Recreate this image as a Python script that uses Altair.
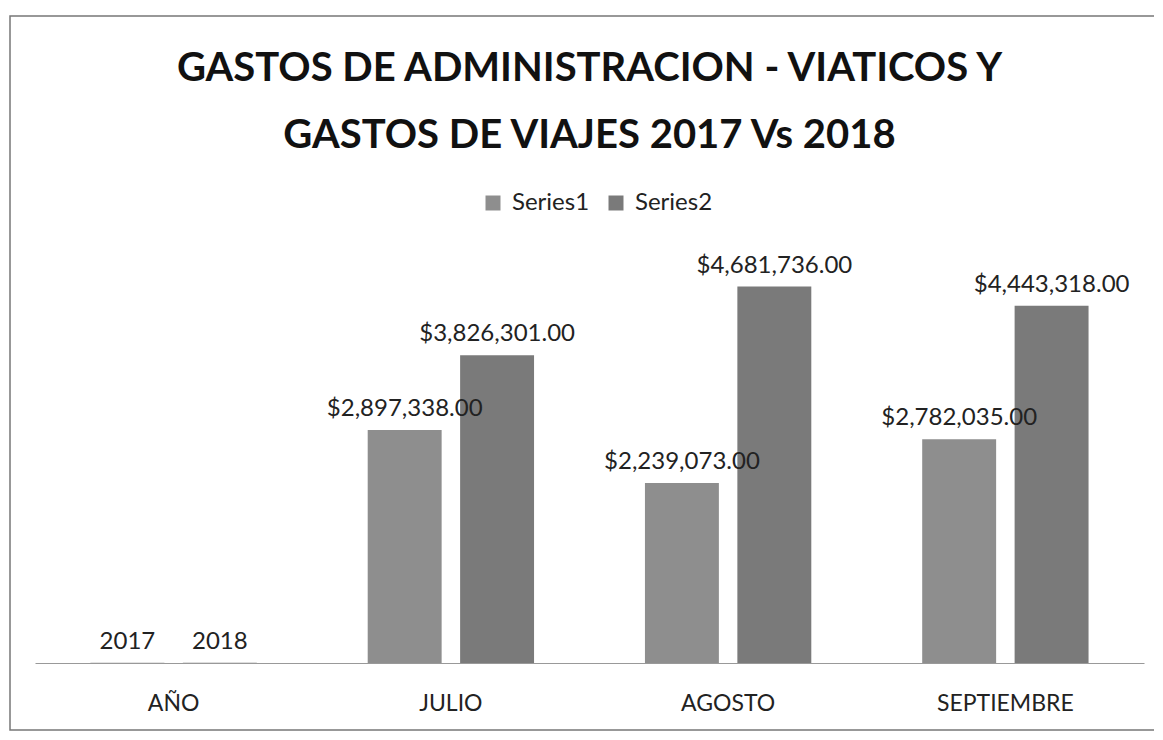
import altair as alt
import pandas as pd

categories = ["AÑO", "JULIO", "AGOSTO", "SEPTIEMBRE"]
series1 = [2017, 2897338, 2239073, 2782035]
series2 = [2018, 3826301, 4681736, 4443318]
series_names = ["Series1", "Series2"]
series_colors = ["#8e8e8e", "#7a7a7a"]
title_lines = ["GASTOS DE ADMINISTRACION - VIATICOS Y", "GASTOS DE VIAJES 2017 Vs 2018"]

rows = []
for cat, v1, v2 in zip(categories, series1, series2):
    rows.append({"cat": cat, "serie": series_names[0], "valor": v1})
    rows.append({"cat": cat, "serie": series_names[1], "valor": v2})
df = pd.DataFrame(rows)

FONT = "Lato"

base = alt.Chart(df).transform_calculate(
    label="datum.cat == 'AÑO' ? format(datum.valor, 'd') : '$' + format(datum.valor, ',.2f')"
).encode(
    x=alt.X(
        "cat:N",
        sort=categories,
        title=None,
        scale=alt.Scale(paddingInner=0.4, paddingOuter=0.2),
        axis=alt.Axis(
            labelAngle=0,
            labelFont=FONT,
            labelFontSize=23,
            labelColor="#222",
            labelPadding=29,
            ticks=False,
            domainColor="#999",
            domainWidth=1,
            grid=False,
        ),
    ),
    xOffset=alt.XOffset("serie:N", sort=series_names, scale=alt.Scale(paddingInner=0.2)),
    y=alt.Y("valor:Q", scale=alt.Scale(domain=[0, 5000000]), axis=None),
)

bars = base.mark_bar().encode(
    color=alt.Color(
        "serie:N",
        sort=series_names,
        scale=alt.Scale(domain=series_names, range=series_colors),
        legend=alt.Legend(
            title=None,
            orient="none",
            direction="horizontal",
            legendX=446,
            legendY=-70,
            symbolType="square",
            symbolSize=225,
            symbolStrokeWidth=0,
            labelFont=FONT,
            labelFontSize=24,
            labelColor="#222",
            labelOffset=7,
            columnPadding=14,
        ),
    )
)

labels = base.mark_text(
    dy=-14, baseline="alphabetic", font=FONT, fontSize=24, color="#222"
).encode(text="label:N")

border = alt.Chart(pd.DataFrame({"k": [0]})).mark_rect(
    fillOpacity=0, stroke="#777", strokeWidth=1.5
).encode(
    x=alt.value(-25), x2=alt.value(1125), y=alt.value(-245), y2=alt.value(469)
)

chart = alt.layer(border, bars, labels).properties(
    width=1109,
    height=402,
    padding={"left": 27, "top": 253, "right": 10, "bottom": 70},
    autosize=alt.AutoSizeParams(type="none"),
    title=alt.Title(
        title_lines,
        font=FONT,
        fontSize=40,
        fontWeight="bold",
        color="#111",
        lineHeight=67,
        anchor="middle",
        offset=-141,
    ),
).configure_view(stroke=None)

chart.save("out.html", embed_options={"renderer": "svg", "actions": False})
